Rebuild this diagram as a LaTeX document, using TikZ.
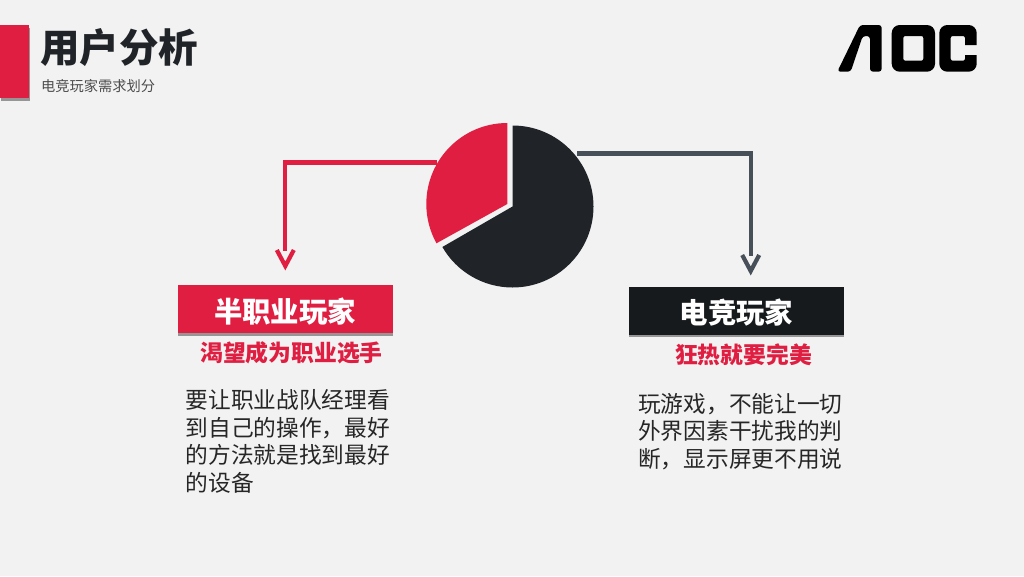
\documentclass[tikz,border=0pt]{standalone}
\usepackage{fontspec}
\setmainfont{Noto Sans CJK SC}
\usetikzlibrary{calc,shadows}
\definecolor{aocred}{HTML}{E01E41}
\definecolor{aocdark}{HTML}{202428}
\definecolor{aocblack}{HTML}{161A1C}
\definecolor{aocgrey}{HTML}{474F59}
\definecolor{aocpaper}{HTML}{F2F2F2}
\tikzset{
  softshadow/.style={drop shadow={shadow xshift=#1, shadow yshift=-2.5pt, fill=black!50, opacity=.8}},
  namebox/.style={minimum width=215pt, minimum height=48pt, inner sep=0pt, text=white,
    text height=30pt, text depth=3.4pt, softshadow=0pt,
    font=\fontsize{28.4}{30}\selectfont\bfseries},
  slogan/.style={inner sep=0pt, text=aocred, font=\fontsize{22.8}{25}\selectfont\bfseries},
  bodytext/.style={inner sep=0pt, anchor=north west, align=left, text=black!85,
    font=\fontsize{22.7}{27.6}\selectfont},
  feeder/.style={line width=4.2pt, miter limit=10},
}
\begin{document}
\begin{tikzpicture}[x=1pt, y=1pt]
    \useasboundingbox (0,0) rectangle (1024,-576);
    \fill[aocpaper] (0,0) rectangle (1024,-576);
    % header
    \fill[aocred, softshadow=1pt] (0,-25) rectangle (29,-98);
    \node[inner sep=0pt, anchor=west, text=aocdark, font=\fontsize{39.5}{42}\selectfont\bfseries]
      (title) at (40,-48) {用户分析};
    \node[inner sep=0pt, anchor=west, text=black!70, font=\fontsize{14.25}{16}\selectfont]
      (subtitle) at (41,-86) {电竞玩家需求划分};
    % logo
    \fill[black, rounded corners=3pt] (837.3,-71.7) -- (860,-25) -- (881.7,-25) -- (881.7,-71.7)
      -- (870,-71.7) -- (870,-36) -- (862.7,-36) -- (850.7,-71.7) -- cycle;
    \fill[black, even odd rule] [rounded corners=8pt] (891.7,-25) rectangle (935,-71.7)
      [rounded corners=2pt] (903.3,-36) rectangle (923.3,-60.7);
    \fill[black] [rounded corners=8pt] (976.7,-45) -- (976.7,-25) -- (939.3,-25) -- (939.3,-71.7)
      -- (976.7,-71.7) [sharp corners] -- (976.7,-55) -- (965,-55) [rounded corners=2pt] -- (965,-60.7)
      -- (950.7,-60.7) -- (950.7,-36) -- (965,-36) [sharp corners] -- (965,-45) -- cycle;
    % pie
    \fill[aocdark] (512.5,-206.5) -- ++(90:81) arc[start angle=90, end angle=-150, radius=81] -- cycle;
    \fill[aocred] (507.3,-204) -- ++(90:81) arc[start angle=90, end angle=209, radius=81] -- cycle;
    % groups
    \node[namebox, fill=aocred] (semibox) at (285,-309) {半职业玩家};
    \node[namebox, fill=aocblack] (probox) at (736.5,-310.5) {电竞玩家};
    \node[slogan] (semislogan) at (291.5,-353.3) {渴望成为职业选手};
    \node[slogan] (proslogan) at (743.5,-355) {狂热就要完美};
    \node[bodytext] (semitext) at (185.5,-389.5) {要让职业战队经理看\\到自己的操作，最好\\的方法就是找到最好\\的设备};
    \node[bodytext] (protext) at (638,-393) {玩游戏，不能让一切\\外界因素干扰我的判\\断，显示屏更不用说};
    % feeders
    \coordinate (semistart) at (437,-162.5);
    \coordinate (semineck) at (285.3,-251);
    \coordinate (semitip) at (285.3,-266);
    \coordinate (prostart) at (577,-153.5);
    \coordinate (proneck) at (750.7,-256);
    \coordinate (protip) at (750.7,-271);
    \draw[feeder, aocred] (semistart) -| (semineck);
    \draw[feeder, aocred] ($(semitip)+(-8.5,16)$) -- (semitip) -- ($(semitip)+(8.5,16)$);
    \draw[feeder, aocgrey] (prostart) -| (proneck);
    \draw[feeder, aocgrey] ($(protip)+(-8.5,16)$) -- (protip) -- ($(protip)+(8.5,16)$);
\end{tikzpicture}
\end{document}
